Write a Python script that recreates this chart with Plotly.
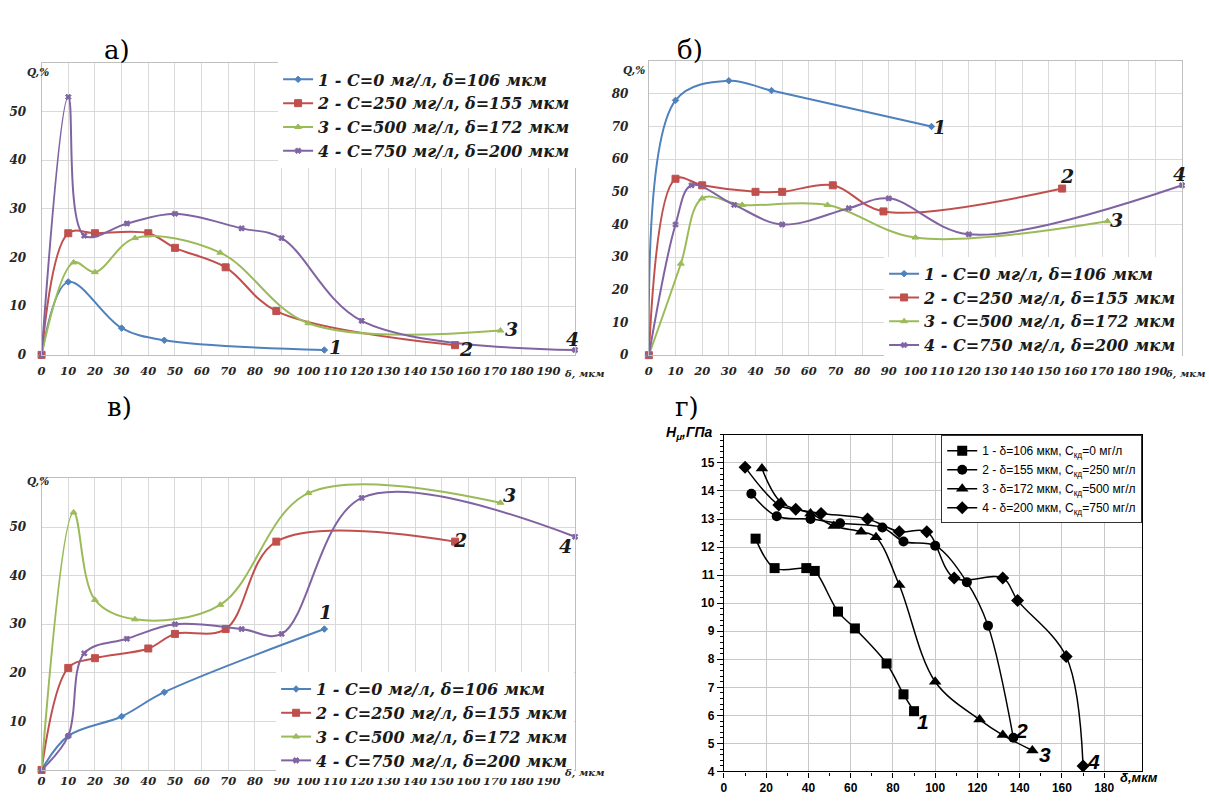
import plotly.graph_objects as go

W, H = 1209, 801

# ---- data: panels а), б), в)  (δ, мкм  ->  Q, %) ----
X1 = [0, 10, 30, 46, 106]
X2 = [0, 10, 20, 40, 50, 69, 88, 155]
X3 = [0, 12, 20, 35, 67, 100, 172]
X4 = [0, 10, 16, 32, 50, 75, 90, 120, 200]

A1 = [0, 15, 5.5, 3, 1]
A2 = [0, 25, 25, 25, 22, 18, 9, 2]
A3 = [0, 19, 17, 24, 21, 6.5, 5]
A4 = [0, 53, 24.5, 27, 29, 26, 24, 7, 1]

B1 = [0, 78, 84, 81, 70]
B2 = [0, 54, 52, 50, 50, 52, 44, 51]
B3 = [0, 28, 48, 46, 46, 36, 41]
B4 = [0, 40, 52, 46, 40, 45, 48, 37, 52]

C1 = [0, 7, 11, 16, 29]
C2 = [0, 21, 23, 25, 28, 29, 47, 47]
C3 = [0, 53, 35, 31, 34, 57, 55]
C4 = [0, 7, 24, 27, 30, 29, 28, 56, 48]

SERIES_NAMES = ["1 - C=0 мг/л, δ=106 мкм", "2 - C=250 мг/л, δ=155 мкм",
                "3 - C=500 мг/л, δ=172 мкм", "4 - C=750 мг/л, δ=200 мкм"]

# ---- data: panel г)  (δ, мкм -> Hμ, ГПа) ----
D_X1 = [15, 24, 39, 43, 54, 62, 77, 85, 90]
D_Y1 = [12.3, 11.25, 11.25, 11.15, 9.7, 9.1, 7.85, 6.75, 6.15]
D_X2 = [13, 25, 41, 55, 75, 85, 100, 115, 125, 137]
D_Y2 = [13.9, 13.1, 13.0, 12.85, 12.7, 12.2, 12.05, 10.75, 9.2, 5.2]
D_X3 = [18, 27, 41, 52, 65, 72, 83, 100, 121, 132, 146]
D_Y3 = [14.8, 13.6, 13.2, 12.75, 12.55, 12.35, 10.65, 7.2, 5.85, 5.3, 4.75]
D_X4 = [10, 26, 34, 46, 68, 83, 96, 109, 132, 139, 162, 170]
D_Y4 = [14.85, 13.5, 13.35, 13.2, 13.0, 12.55, 12.55, 10.9, 10.9, 10.1, 8.1, 4.2]
D_NAMES = ["1 - δ=106 мкм, C<sub>кд</sub>=0 мг/л", "2 - δ=155 мкм, C<sub>кд</sub>=250 мг/л",
           "3 - δ=172 мкм, C<sub>кд</sub>=500 мг/л", "4 - δ=200 мкм, C<sub>кд</sub>=750 мг/л"]

X_TICKS = list(range(0, 200, 10))
D_XTICKS = list(range(0, 181, 20))
D_YTICKS = list(range(4, 16))

COLORS = ["#4F81BD", "#C0504D", "#9BBB59", "#8064A2"]
SYMBOLS = ["diamond", "square", "triangle-up", "x"]
SIZES = [5, 7, 6, 5]
D_SYMBOLS = ["square", "circle", "triangle-up", "diamond"]

SERIF = "DejaVu Serif"
SANS = "Liberation Sans"


def px(p):
    return p / W


def py(p):
    return 1 - p / H


fig = go.Figure()

q_panels = [
    ("x", "y", "legend", [(X1, A1), (X2, A2), (X3, A3), (X4, A4)]),
    ("x2", "y2", "legend2", [(X1, B1), (X2, B2), (X3, B3), (X4, B4)]),
    ("x3", "y3", "legend3", [(X1, C1), (X2, C2), (X3, C3), (X4, C4)]),
]
for xa, ya, leg, series in q_panels:
    for i, (xs, ys) in enumerate(series):
        fig.add_trace(go.Scatter(
            x=xs, y=ys, name=SERIES_NAMES[i], mode="lines+markers",
            xaxis=xa, yaxis=ya, legend=leg, cliponaxis=False,
            line=dict(color=COLORS[i], width=2, shape="spline", smoothing=1),
            marker=dict(symbol=SYMBOLS[i], size=SIZES[i], color=COLORS[i],
                        line=dict(color=COLORS[i], width=1)),
        ))

for i, (xs, ys) in enumerate([(D_X1, D_Y1), (D_X2, D_Y2), (D_X3, D_Y3), (D_X4, D_Y4)]):
    fig.add_trace(go.Scatter(
        x=xs, y=ys, name=D_NAMES[i], mode="lines+markers",
        xaxis="x4", yaxis="y4", legend="legend4", cliponaxis=False,
        line=dict(color="black", width=1.5, shape="spline", smoothing=1),
        marker=dict(symbol=D_SYMBOLS[i], size=10 if i != 2 else 11, color="black"),
    ))

grid = "#d9d9d9"
axline = "#bfbfbf"


def tfont(size):
    return dict(family=SERIF, size=size, color="#262626", weight="bold", style="italic")


def q_xaxis(dom, anchor, standoff, size):
    return dict(domain=dom, anchor=anchor, range=[0, 200], tickvals=X_TICKS,
                showgrid=True, gridcolor=grid, gridwidth=1, zeroline=False,
                showline=True, linecolor=axline, mirror=True, ticks="",
                tickfont=tfont(size), ticklabelstandoff=standoff, fixedrange=True)


def q_yaxis(dom, anchor, top, standoff):
    return dict(domain=dom, anchor=anchor, range=[0, top],
                tickvals=list(range(0, top, 10)),
                showgrid=True, gridcolor=grid, gridwidth=1, zeroline=False,
                showline=True, linecolor=axline, mirror=True, ticks="",
                tickfont=tfont(12), ticklabelstandoff=standoff, fixedrange=True)


# pixel geometry of the plot areas
A_X = [px(37.7), px(573)]
A_Y = [py(358), py(63.5)]
B_X = [px(647), px(1182)]
B_Y = [py(358.3), py(61.7)]
C_X = [px(37.7), px(573)]
C_Y = [py(776.7), py(482.7)]
D_XD = [px(722.3), px(1142)]
D_YD = [py(778.3), py(438.7)]

legend_font = dict(family=SERIF, size=16, color="#1a1a1a", weight="bold", style="italic")
sans_tick = dict(family=SANS, size=12, color="black", weight="bold")

fig.update_layout(
    width=W, height=H, margin=dict(l=0, r=0, t=0, b=0),
    paper_bgcolor="white", plot_bgcolor="white",
    xaxis=q_xaxis(A_X, "y", 5, 11.5), yaxis=q_yaxis(A_Y, "x", 60, 12),
    xaxis2=q_xaxis(B_X, "y2", 5, 11.5), yaxis2=q_yaxis(B_Y, "x2", 90, 17),
    xaxis3=q_xaxis(C_X, "y3", 0, 11.5), yaxis3=q_yaxis(C_Y, "x3", 60, 12),
    xaxis4=dict(domain=D_XD, anchor="y4", range=[0, 198], tickvals=D_XTICKS,
                showgrid=True, gridcolor="#c8c8c8", zeroline=False,
                showline=True, linecolor="black", linewidth=1.2, mirror=True,
                ticks="outside", ticklen=5, tickcolor="black",
                minor=dict(dtick=10, ticks="outside", ticklen=3,
                           tickcolor="black", showgrid=False),
                tickfont=sans_tick, fixedrange=True),
    yaxis4=dict(domain=D_YD, anchor="x4", range=[4, 16], tickvals=D_YTICKS,
                showgrid=True, gridcolor="#c8c8c8", zeroline=False,
                showline=True, linecolor="black", linewidth=1.2, mirror=True,
                ticks="outside", ticklen=6, tickcolor="black",
                minor=dict(dtick=0.2, ticks="outside", ticklen=3, tickcolor="black",
                           showgrid=False),
                tickfont=sans_tick, fixedrange=True),
    legend=dict(x=px(275), y=py(63), xanchor="left", yanchor="top",
                bgcolor="white", font=legend_font, tracegroupgap=0),
    legend2=dict(x=px(883), y=py(259), xanchor="left", yanchor="top",
                 bgcolor="white", font=legend_font, tracegroupgap=0),
    legend3=dict(x=px(273), y=py(678), xanchor="left", yanchor="top",
                 bgcolor="white", font=legend_font, tracegroupgap=0),
    legend4=dict(x=px(1142), y=py(439), xanchor="right", yanchor="top",
                 bgcolor="white", bordercolor="#333333", borderwidth=1,
                 font=dict(family=SANS, size=12, color="black")),
    showlegend=True,
)

ann = []
# panel letters
for txt, x, y in [("а)", 98, 33), ("б)", 688, 33), ("в)", 101, 411), ("г)", 685, 411)]:
    ann.append(dict(text=txt, x=px(x), y=py(y), xref="paper", yref="paper",
                    showarrow=False, font=dict(family=SERIF, size=26, color="black")))
# axis titles (Q,% and δ, мкм)
small_q = dict(family=SERIF, size=10.5, color="#262626", weight="bold", style="italic")
for x, y in [(21.5, 65), (632, 63), (21.5, 485)]:
    ann.append(dict(text="Q,%", x=px(x), y=py(y), xref="paper", yref="paper",
                    showarrow=False, font=small_q))
delta_font = dict(family=SERIF, size=10, color="#262626", weight="bold", style="italic")
for x, y, anc in [(560, 377, "left"), (1207, 377, "right"), (560, 788, "left")]:
    ann.append(dict(text="δ, мкм", x=px(x), y=py(y), xref="paper", yref="paper",
                    xanchor=anc, showarrow=False, font=delta_font))
ann.append(dict(text="H<sub>μ</sub>,ГПа", x=px(713), y=py(437), xref="paper", yref="paper",
                xanchor="right", showarrow=False,
                font=dict(family=SANS, size=14, color="black", weight="bold", style="italic")))
ann.append(dict(text="δ,мкм", x=px(1118), y=py(794), xref="paper", yref="paper",
                xanchor="left", showarrow=False,
                font=dict(family=SANS, size=13, color="black", weight="bold", style="italic")))

# curve numbers
num_font = dict(family=SERIF, size=19, color="#1a1a1a", weight="bold", style="italic")
for xr, yr, pts in [
    ("x", "y", [(110, 1.6), (159, 1.2), (176, 5.3), (199, 3.3)]),
    ("x2", "y2", [(109, 70), (157, 55), (175.5, 41.5), (199, 55.5)]),
    ("x3", "y3", [(106.5, 32.5), (157, 47.3), (175.5, 56.5), (196.5, 46)]),
]:
    for k, (x, y) in enumerate(pts):
        ann.append(dict(text=str(k + 1), x=x, y=y, xref=xr, yref=yr, showarrow=False,
                        font=num_font))
d_font = dict(family=SANS, size=21, color="black", weight="bold", style="italic")
for k, (x, y) in enumerate([(94, 5.8), (141, 5.45), (152, 4.6), (175, 4.35)]):
    ann.append(dict(text=str(k + 1), x=x, y=y, xref="x4", yref="y4", showarrow=False,
                    font=d_font))

fig.update_layout(annotations=ann)
fig.write_html(
    "out.html",
    config={"displayModeBar": False},
    post_script="document.body.style.margin='0';document.body.style.overflow='hidden';",
)
